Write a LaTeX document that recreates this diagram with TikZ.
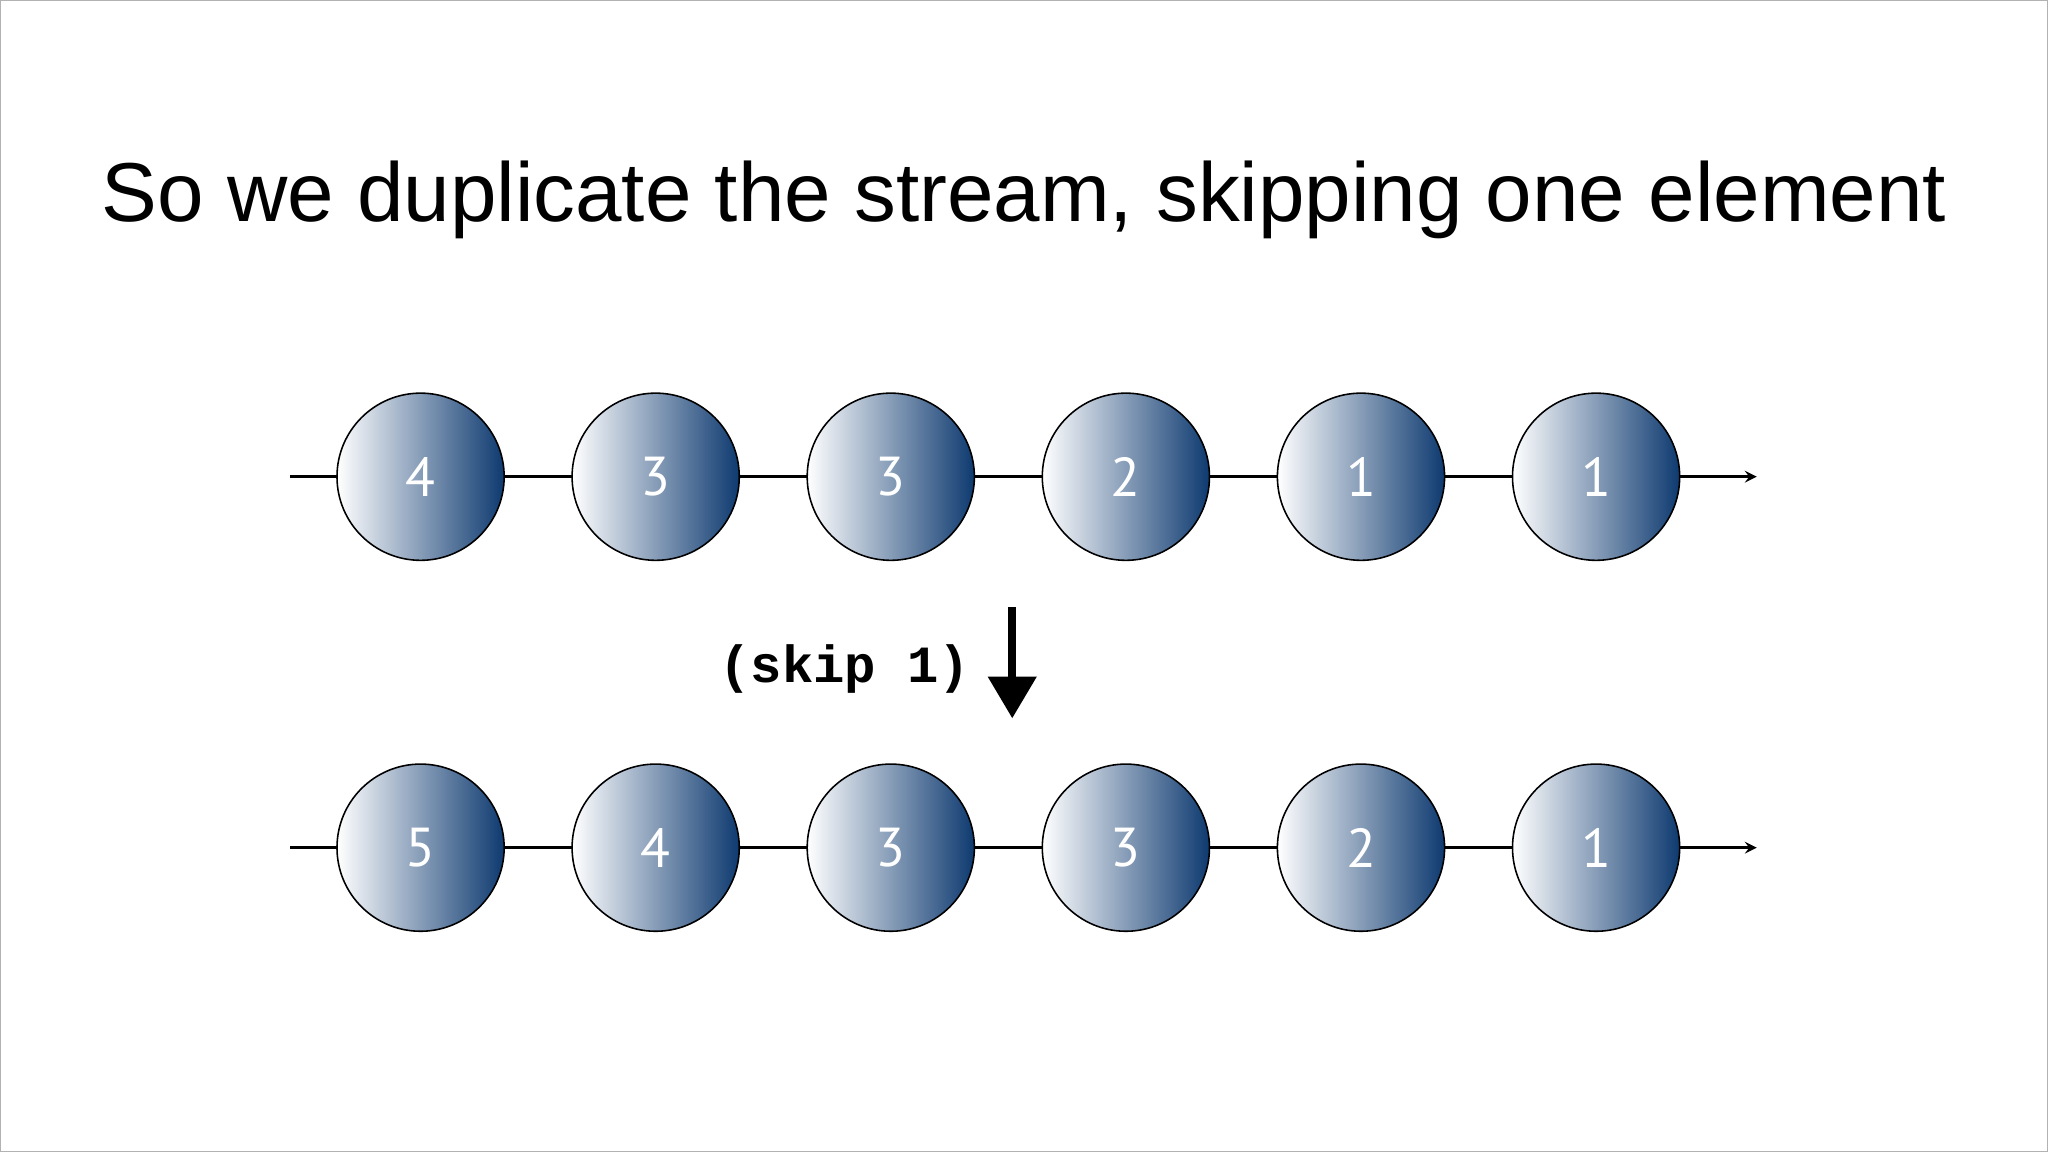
\documentclass[tikz,border=0pt]{standalone}
\usepackage{fontspec}
\usetikzlibrary{arrows.meta}
\setmainfont{Liberation Sans}
\newfontfamily\digfont{PT Sans}
\newfontfamily\monofont{Liberation Mono}
\definecolor{navy}{HTML}{0E3A70}
\begin{document}
\begin{tikzpicture}[x=0.5pt,y=-0.5pt,
  ball/.style={circle,draw=black,line width=0.6pt,minimum size=64pt,inner sep=0pt,
    left color=white,right color=navy,shading angle=90,text=white,font=\digfont\fontsize{21}{21}\selectfont},
  axis/.style={line width=1pt}]
\useasboundingbox (0,0) rectangle (1568,882);
\draw[gray!60,line width=0.5pt] (0.5,0.5) rectangle (1567.5,881.5);
\node (title) at (784,153) {\fontsize{32}{38}\selectfont So we duplicate the stream, skipping one element};
\foreach \r/\y/\labs in {a/365/{4,3,3,2,1,1}, b/649/{5,4,3,3,2,1}}{
  \coordinate (\r s) at (222,\y);
  \coordinate (\r e) at (1345,\y);
  \draw[axis,-stealth] (\r s) -- (\r e);
  \foreach \t [count=\i] in \labs {
    \node[ball] (\r\i) at ({322+(\i-1)*180},\y) {\t};
  }
}
\coordinate (ar1) at (775,465);
\coordinate (ar2) at (775,550);
\draw[line width=3pt,-{Triangle[width=18pt,length=16pt]}] (ar1) -- (ar2);
\node[anchor=east,font=\monofont\bfseries\fontsize{20}{20}\selectfont] (skip) at (750,512) {(skip 1)};
\end{tikzpicture}
\end{document}
